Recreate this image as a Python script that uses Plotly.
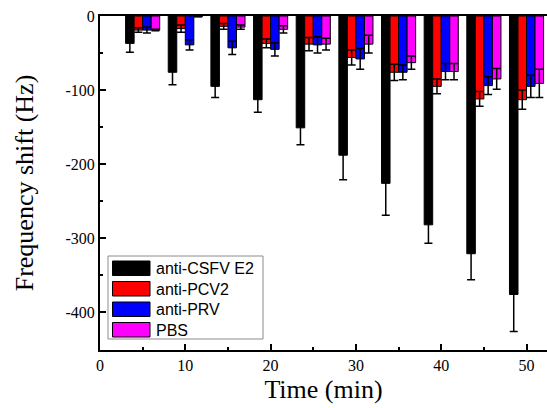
import plotly.graph_objects as go

# ---- data ----
time_min = [5, 10, 15, 20, 25, 30, 35, 40, 45, 50]
series_names = ["anti-CSFV E2", "anti-PCV2", "anti-PRV", "PBS"]
csfv = [-37, -76, -95, -113, -151, -188, -226, -282, -321, -376]
csfv_err = [12, 17, 15, 17, 23, 33, 43, 25, 35, 50]
pcv2 = [-19, -17, -14, -37, -38, -56, -76, -95, -112, -113]
pcv2_err = [3, 5, 4, 6, 9, 10, 11, 10, 10, 13]
prv = [-19, -39, -43, -45, -39, -58, -76, -75, -94, -95]
prv_err = [4, 7, 9, 9, 11, 14, 10, 11, 12, 15]
pbs = [-19, -1, -15, -18, -38, -38, -63, -75, -85, -91]
pbs_err = [1, 0, 3, 5, 8, 12, 9, 11, 14, 19]
colors = ["#000000", "#FF0000", "#0000FF", "#FF00FF"]
y_tickvals = [0, -100, -200, -300, -400]
y_ticktext = ["0", "-100", "-200", "-300", "-400"]
x_tickvals = [0, 10, 20, 30, 40, 50]
x_ticktext = ["0", "10", "20", "30", "40", "50"]

values = [csfv, pcv2, prv, pbs]
errors = [csfv_err, pcv2_err, prv_err, pbs_err]

W, H = 547, 408
ML, MR, MT, MB = 100, 0, 16, 58
PW, PH = W - ML - MR, H - MT - MB

def px(x):
    return (x - ML) / PW

def py(y):
    return (H - MB - y) / PH

fig = go.Figure()
for name, v, e, c in zip(series_names, values, errors, colors):
    fig.add_trace(go.Bar(
        x=time_min, y=v, name=name,
        marker=dict(color=c, line=dict(color="black", width=1)),
        error_y=dict(type="data", array=e, color="black", thickness=1.5, width=4),
        showlegend=False,
    ))

serif = "Liberation Serif"
sans = "Liberation Sans"

shapes = []
annotations = []
# legend box
shapes.append(dict(type="rect", xref="paper", yref="paper",
                   x0=px(108), x1=px(263), y0=py(339), y1=py(256),
                   line=dict(color="#8c8c8c", width=1), fillcolor="white", layer="above"))
row_top = [261, 281.5, 302, 322.5]
for i, (name, c) in enumerate(zip(series_names, colors)):
    t = row_top[i]
    shapes.append(dict(type="rect", xref="paper", yref="paper",
                       x0=px(112.5), x1=px(150), y0=py(t + 14.5), y1=py(t),
                       line=dict(color="black", width=1), fillcolor=c, layer="above"))
    annotations.append(dict(xref="paper", yref="paper", x=px(154), y=py(t + 7.5),
                            text=name, showarrow=False, xanchor="left", yanchor="middle",
                            font=dict(family=sans, size=16, color="black")))

fig.update_layout(
    width=W, height=H,
    margin=dict(l=ML, r=MR, t=MT, b=MB),
    paper_bgcolor="white", plot_bgcolor="white",
    barmode="group", bargap=0.2, bargroupgap=0,
    shapes=shapes, annotations=annotations,
    xaxis=dict(
        range=[0, 52.4], tickvals=x_tickvals, ticktext=x_ticktext,
        ticks="inside", ticklen=6, tickwidth=2, tickcolor="black",
        minor=dict(dtick=5, tick0=0, ticks="inside", ticklen=3, tickwidth=2, tickcolor="black"),
        showline=True, linecolor="black", linewidth=2, mirror=True,
        showgrid=False, zeroline=False,
        tickfont=dict(family=serif, size=16, color="black"),
        title=dict(text="Time (min)", font=dict(family=serif, size=26, color="black"), standoff=7),
        automargin=False,
    ),
    yaxis=dict(
        range=[-451, 0], tickvals=y_tickvals, ticktext=y_ticktext,
        ticks="inside", ticklen=6, tickwidth=2, tickcolor="black",
        minor=dict(dtick=50, tick0=0, ticks="inside", ticklen=3, tickwidth=2, tickcolor="black"),
        showline=True, linecolor="black", linewidth=2,
        showgrid=False, zeroline=False,
        tickfont=dict(family=serif, size=16, color="black"),
        title=dict(text="Frequency shift (Hz)", font=dict(family=serif, size=26, color="black"), standoff=24),
        automargin=False,
    ),
)

fig.write_html("out.html", config={"displayModeBar": False},
               post_script="document.body.style.margin='0';document.body.style.overflow='hidden';")
